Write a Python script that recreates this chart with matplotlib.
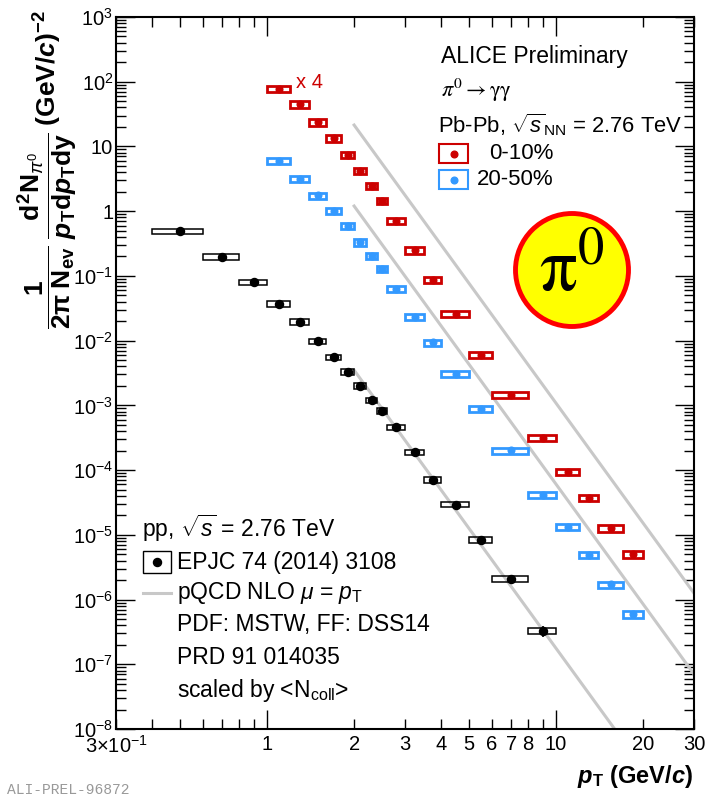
import matplotlib
matplotlib.use('Agg')
import matplotlib.pyplot as plt
from matplotlib.patches import Rectangle, Ellipse
from matplotlib.lines import Line2D
import numpy as np

plt.rcParams['font.family'] = ['Liberation Sans', 'DejaVu Sans']
plt.rcParams['mathtext.fontset'] = 'custom'
plt.rcParams['mathtext.rm'] = 'Liberation Sans'
plt.rcParams['mathtext.it'] = 'Liberation Sans:italic'
plt.rcParams['mathtext.bf'] = 'Liberation Sans:bold'
plt.rcParams['mathtext.bfit'] = 'Liberation Sans:italic:bold'
plt.rcParams['mathtext.sf'] = 'Liberation Sans'

# pp reference spectrum (bin edges in GeV/c)
pp_edges = [0.4, 0.6, 0.8, 1.0, 1.2, 1.4, 1.6, 1.8, 2.0, 2.2, 2.4, 2.6,
            3.0, 3.5, 4.0, 5.0, 6.0, 8.0, 10.0]
pp_yield = [0.49, 0.195, 0.080, 0.0366, 0.0193, 0.0098, 0.0055, 0.0033,
            0.0020, 0.0012, 8.2e-4, 4.6e-4, 1.87e-4, 7.0e-5, 2.94e-5,
            8.3e-6, 2.1e-6, 3.3e-7]
pp_stat = [0.01, 0.01, 0.01, 0.01, 0.01, 0.01, 0.01, 0.01, 0.01, 0.01,
           0.01, 0.01, 0.02, 0.02, 0.03, 0.04, 0.06, 0.19]
pp_sys = 0.10

# Pb-Pb spectra
pbpb_edges = [1.0, 1.2, 1.4, 1.6, 1.8, 2.0, 2.2, 2.4, 2.6, 3.0, 3.5, 4.0,
              5.0, 6.0, 8.0, 10.0, 12.0, 14.0, 17.0, 20.0]
cent_0_10 = [19.3, 11.2, 5.9, 3.33, 1.84, 1.04, 0.618, 0.358, 0.176, 0.062,
             0.0218, 6.43e-3, 1.49e-3, 3.6e-4, 7.9e-5, 2.35e-5, 9.2e-6,
             3.15e-6, 1.25e-6]
cent_0_10_stat = [0.01] * 15 + [0.03, 0.05, 0.14, 0.09]
cent_0_10_scale = 4
cent_20_50 = [6.01, 3.13, 1.75, 1.01, 0.589, 0.330, 0.202, 0.127, 0.0625,
              0.0231, 9.38e-3, 3.03e-3, 8.73e-4, 2.01e-4, 4.09e-5, 1.32e-5,
              4.96e-6, 1.71e-6, 5.93e-7]
cent_20_50_stat = [0.01] * 15 + [0.02, 0.03, 0.04, 0.05]
pbpb_sys = 0.11

# pQCD NLO for pp, scaled by <Ncoll>
nlo_pt = [2, 3, 4, 6, 8, 10, 14, 20, 30]
nlo_pp = [3.5e-3, 2.89e-4, 4.93e-5, 4.07e-6, 6.94e-7, 1.76e-7, 2.22e-8,
          2.48e-9, 2.05e-10]
ncoll_0_10 = 1530
ncoll_20_50 = 343

yticks = [1e-8, 1e-7, 1e-6, 1e-5, 1e-4, 1e-3, 1e-2, 1e-1, 1, 10, 1e2, 1e3]
ytick_labels = ['$10^{-8}$', '$10^{-7}$', '$10^{-6}$', '$10^{-5}$',
                '$10^{-4}$', '$10^{-3}$', '$10^{-2}$', '$10^{-1}$',
                '1', '10', '$10^{2}$', '$10^{3}$']
xmajor = [1, 10]
xmajor_labels = ['1', '10']
xminor = [0.3, 0.4, 0.5, 0.6, 0.7, 0.8, 0.9, 2, 3, 4, 5, 6, 7, 8, 9, 20, 30]
xminor_labels = [r'$3{\times}10^{-1}$', '', '', '', '', '', '',
                 '2', '3', '4', '5', '6', '7', '8', '', '20', '30']

RED = '#cc0000'
BLUE = '#3399ff'
GREY = '#c8c8c8'

W, H = 708, 797
fig = plt.figure(figsize=(W / 100, H / 100), dpi=100)
ax = fig.add_axes([116 / W, 1 - 729 / H, (694 - 116) / W, (729 - 17) / H])
ax.set_xscale('log')
ax.set_yscale('log')
ax.set_xlim(0.3, 30)
ax.set_ylim(1e-8, 1e3)


def draw_spectrum(edges, vals, stat, sys, color, scale=1, lw=1.0, ms=4.3):
    edges = np.array(edges)
    vals = np.array(vals) * scale
    lo, hi = edges[:-1], edges[1:]
    x = 0.5 * (lo + hi)
    for l, h, v in zip(lo, hi, vals):
        ax.add_patch(Rectangle((l, v * (1 - sys)), h - l, 2 * sys * v,
                               fill=False, edgecolor=color, lw=lw, zorder=3))
    ax.errorbar(x, vals, yerr=np.array(stat) * vals, fmt='o', color=color,
                ms=ms, elinewidth=1.2, capsize=0, zorder=4)


# NLO curves
nlo_pt_a = np.array(nlo_pt)
nlo_pp_a = np.array(nlo_pp)
ax.plot(nlo_pt_a, nlo_pp_a, color=GREY, lw=2.2, zorder=2)
ax.plot(nlo_pt_a, nlo_pp_a * ncoll_20_50, color=GREY, lw=2.2, zorder=2)
ax.plot(nlo_pt_a, nlo_pp_a * ncoll_0_10 * cent_0_10_scale, color=GREY,
        lw=2.2, zorder=2)

draw_spectrum(pp_edges, pp_yield, pp_stat, pp_sys, 'black', lw=1.1, ms=5.8)
draw_spectrum(pbpb_edges, cent_0_10, cent_0_10_stat, pbpb_sys, RED,
              scale=cent_0_10_scale, lw=2.0, ms=4.8)
draw_spectrum(pbpb_edges, cent_20_50, cent_20_50_stat, pbpb_sys, BLUE,
              lw=2.0, ms=4.8)

# axes and ticks
ax.set_yticks(yticks, ytick_labels)
ax.yaxis.set_minor_locator(matplotlib.ticker.LogLocator(base=10, subs=np.arange(2, 10), numticks=100))
ax.yaxis.set_minor_formatter(matplotlib.ticker.NullFormatter())
ax.set_xticks(xmajor, xmajor_labels)
ax.set_xticks(xminor, xminor_labels, minor=True)
ax.tick_params(which='both', direction='in', top=True, right=True, width=1.0)
ax.tick_params(which='major', length=14)
ax.tick_params(which='minor', length=7)
ax.tick_params(axis='y', which='both', labelsize=14.5, pad=2)
ax.tick_params(axis='x', which='both', labelsize=14.5, pad=4)
for s in ax.spines.values():
    s.set_linewidth(1.5)


def fp(px, py):
    return px / W, 1 - py / H


# axis titles
fig.text(*fp(693, 776), r'$\mathbfit{p}_{\mathbf{T}}$ (GeV/$\mathbfit{c}$)',
         ha='right', va='center', fontsize=17, fontweight='bold')
fig.text(*fp(47, 170),
         r'$\dfrac{\mathbf{1}}{\mathbf{2\pi}\;\mathbf{N}_{\mathbf{ev}}}\;'
         r'\dfrac{\mathbf{d}^{\mathbf{2}}\mathbf{N}_{\pi^{0}}}'
         r'{\mathbfit{p}_{\mathbf{T}}\mathbf{d}\mathbfit{p}_{\mathbf{T}}\mathbf{dy}}\;'
         r'\mathbf{(GeV/}\mathbfit{c}\mathbf{)}^{\mathbf{-2}}$',
         rotation=90, ha='center', va='center', fontsize=19)

# Pb-Pb legend
fig.text(*fp(441, 57), 'ALICE Preliminary', fontsize=16.5, va='center')
fig.text(*fp(441, 90), r'$\pi^0 \rightarrow \mathrm{\gamma\gamma}$',
         fontsize=16, va='center', math_fontfamily='stix')
fig.text(*fp(438, 125), r'Pb-Pb, $\sqrt{s}_{\rm NN}$ = 2.76 TeV',
         fontsize=15.8, va='center')
for (y0, col, lab) in [(144, RED, '0-10%'), (170, BLUE, '20-50%')]:
    x0, y1 = fp(439, y0 + 19)
    x1, _ = fp(468, y0)
    fig.add_artist(Rectangle((x0, y1), x1 - x0, 19 / H, fill=False,
                             edgecolor=col, lw=1.5, transform=fig.transFigure))
    cx, cy = fp(453.5, y0 + 9.5)
    fig.add_artist(Line2D([cx], [cy], marker='o', ms=4.8, color=col,
                          transform=fig.transFigure))
    fig.text(*fp(553, y0 + 9.5), lab, fontsize=16, ha='right', va='center')

fig.text(*fp(296, 82), 'x 4', color=RED, fontsize=14.5, va='center')

# pp legend
fig.text(*fp(142, 528), r'pp, $\sqrt{s}$ = 2.76 TeV', fontsize=16.5,
         va='center')
bx0, by0 = fp(143, 573)
fig.add_artist(Rectangle((bx0, by0), 28 / W, 22 / H, fill=False,
                         edgecolor='black', lw=1.0, transform=fig.transFigure))
fig.add_artist(Line2D([fp(157, 562)[0]], [fp(157, 562)[1]], marker='o',
                      ms=5.8, color='black', transform=fig.transFigure))
fig.text(*fp(177, 562), 'EPJC 74 (2014) 3108', fontsize=16.5, va='center')
lx0, ly = fp(143, 593)
lx1, _ = fp(171, 593)
fig.add_artist(Line2D([lx0, lx1], [ly, ly], color=GREY, lw=2.2,
                      transform=fig.transFigure))
fig.text(*fp(177, 593), r'pQCD NLO $\mu$ = $p_{\rm T}$', fontsize=16.5,
         va='center')
fig.text(*fp(177, 625), 'PDF: MSTW, FF: DSS14', fontsize=16.5, va='center')
fig.text(*fp(177, 657), 'PRD 91 014035', fontsize=16.5, va='center')
fig.text(*fp(177, 690), r'scaled by <N$_{\rm coll}$>', fontsize=16.5,
         va='center')

# pi0 badge
fig.add_artist(Ellipse(fp(572, 270), 113 / W, 113 / H, facecolor='#ffff00',
                       edgecolor='#ff0000', lw=3.5, transform=fig.transFigure))
fig.text(*fp(572, 272), r'$\mathrm{\pi}^0$', fontsize=54, ha='center',
         va='center', math_fontfamily='stix')

fig.text(*fp(7, 790), 'ALI-PREL-96872', fontsize=10.5, va='center',
         family='Liberation Mono', color='#999999')

fig.savefig('out.png', dpi=100)
